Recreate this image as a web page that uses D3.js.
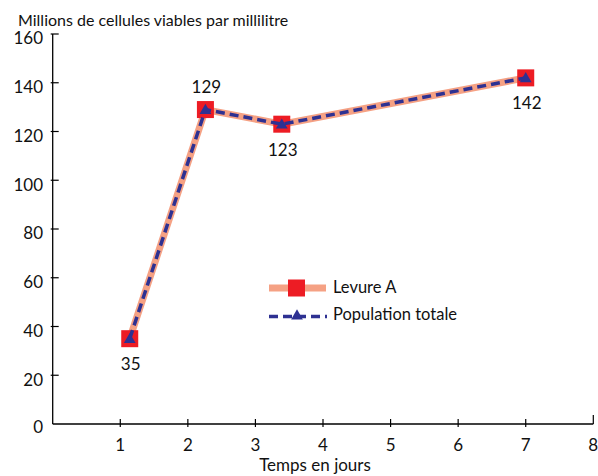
<!DOCTYPE html>
<html>
<head>
<meta charset="utf-8">
<script src="https://cdn.jsdelivr.net/npm/d3@7"></script>
<style>
  html, body { margin: 0; padding: 0; background: #fff; }
  svg text { font-family: Lato, "Open Sans", sans-serif; fill: #111; }
</style>
</head>
<body>
<div id="chart"></div>
<script>
// valeurs
const days = [1.14, 2.26, 3.39, 7];
const levureA = [35, 129, 123, 142];
const populationTotale = [35, 129, 123, 142];
const pointLabels = ['35', '129', '123', '142'];
const labelAbove = [false, true, false, false];
const yTicks = [0, 20, 40, 60, 80, 100, 120, 140, 160];
const xTicks = [1, 2, 3, 4, 5, 6, 7, 8];

const W = 598, H = 476;
const svg = d3.select('#chart').append('svg')
  .attr('width', W).attr('height', H);

const x = d3.scaleLinear().domain([0, 8]).range([52.7, 593.3]);
const y = d3.scaleLinear().domain([0, 160]).range([424, 34]);

const salmon = '#f5a184', red = '#ed1c24', blue = '#2e3192';

// axe Y
svg.append('line')
  .attr('x1', x(0)).attr('x2', x(0)).attr('y1', y(0)).attr('y2', y(160))
  .attr('stroke', '#000').attr('stroke-width', 1.3);
svg.selectAll('.ytick').data(yTicks.filter(d => d > 0)).join('line')
  .attr('x1', x(0) - 2).attr('x2', x(0) + 6)
  .attr('y1', d => y(d)).attr('y2', d => y(d))
  .attr('stroke', '#000').attr('stroke-width', 1.2);
svg.selectAll('.ylab').data(yTicks).join('text')
  .attr('x', 43).attr('y', d => y(d) + (d === 0 ? 5 : 6))
  .attr('text-anchor', 'end').attr('dominant-baseline', 'middle')
  .attr('font-size', 17).text(d => d);

// axe X
svg.append('line')
  .attr('x1', x(0)).attr('x2', x(8)).attr('y1', y(0)).attr('y2', y(0))
  .attr('stroke', '#000').attr('stroke-width', 1.3);
svg.selectAll('.xtick').data(xTicks).join('line')
  .attr('x1', d => x(d)).attr('x2', d => x(d))
  .attr('y1', d => d === 8 ? y(0) - 9 : y(0) - 5)
  .attr('y2', d => d === 8 ? y(0) : y(0) + 3)
  .attr('stroke', '#000').attr('stroke-width', 1.2);
svg.selectAll('.xlab').data(xTicks).join('text')
  .attr('x', d => x(d)).attr('y', 447)
  .attr('text-anchor', 'middle').attr('dominant-baseline', 'middle')
  .attr('font-size', 17).text(d => d);

// titres
svg.append('text').attr('x', 18).attr('y', 26)
  .attr('font-size', 16).text('Millions de cellules viables par millilitre');
svg.append('text').attr('x', 315).attr('y', 471)
  .attr('text-anchor', 'middle').attr('font-size', 17).text('Temps en jours');

// séries
const ptsA = days.map((d, i) => [x(d), y(levureA[i])]);
const ptsP = days.map((d, i) => [x(d), y(populationTotale[i])]);
const line = d3.line();

svg.append('path').attr('d', line(ptsA))
  .attr('fill', 'none').attr('stroke', salmon).attr('stroke-width', 7)
  .attr('stroke-linejoin', 'round');
svg.selectAll('.sqA').data(ptsA).join('rect')
  .attr('x', d => d[0] - 8.5).attr('y', d => d[1] - 8.5)
  .attr('width', 17).attr('height', 17).attr('fill', red);

svg.append('path').attr('d', line(ptsP))
  .attr('fill', 'none').attr('stroke', blue).attr('stroke-width', 3.5)
  .attr('stroke-dasharray', '9,5');
const tri = d3.symbol().type(d3.symbolTriangle).size(60);
svg.selectAll('.triP').data(ptsP).join('path')
  .attr('d', tri).attr('transform', d => `translate(${d[0]},${d[1] + 1})`)
  .attr('fill', blue);

// étiquettes de valeurs
svg.selectAll('.vlab').data(ptsA).join('text')
  .attr('x', (d, i) => d[0] + 1)
  .attr('y', (d, i) => labelAbove[i] ? d[1] - 21 : d[1] + 27)
  .attr('text-anchor', 'middle').attr('dominant-baseline', 'middle')
  .attr('font-size', 17).text((d, i) => pointLabels[i]);

// légende
const lg = svg.append('g');
lg.append('line').attr('x1', 269).attr('x2', 326).attr('y1', 288).attr('y2', 288)
  .attr('stroke', salmon).attr('stroke-width', 7);
lg.append('rect').attr('x', 288).attr('y', 279.5).attr('width', 17).attr('height', 17)
  .attr('fill', red);
lg.append('text').attr('x', 333).attr('y', 289).attr('dominant-baseline', 'middle')
  .attr('font-size', 16.5).text('Levure A');
lg.append('line').attr('x1', 269).attr('x2', 327).attr('y1', 316.5).attr('y2', 316.5)
  .attr('stroke', blue).attr('stroke-width', 3.5).attr('stroke-dasharray', '9,5');
lg.append('path').attr('d', tri).attr('transform', 'translate(297,316)')
  .attr('fill', blue);
lg.append('text').attr('x', 333).attr('y', 316).attr('dominant-baseline', 'middle')
  .attr('font-size', 16.5).text('Population totale');
</script>
</body>
</html>
